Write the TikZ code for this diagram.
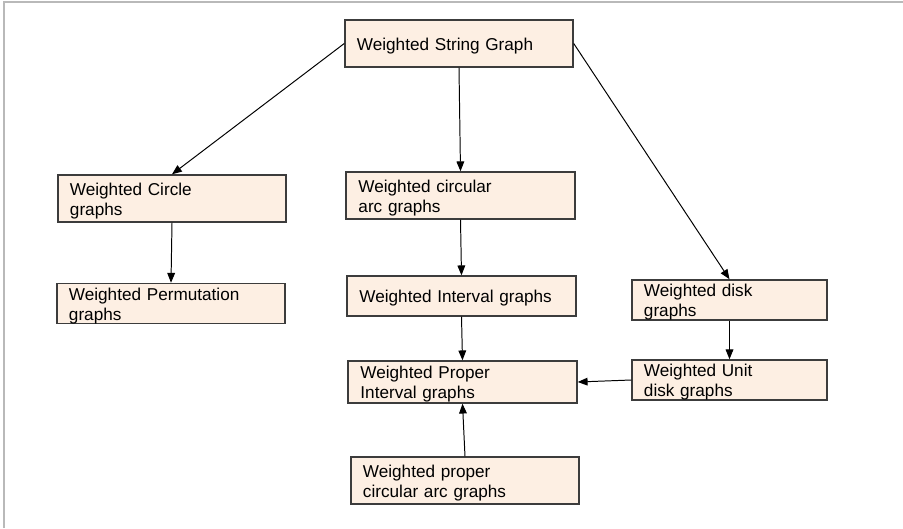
\documentclass[tikz,border=0pt]{standalone}
\usepackage{fontspec}
\setmainfont{Liberation Sans}
\usepackage{tikz}
\usetikzlibrary{arrows.meta}
\definecolor{boxfill}{RGB}{253,239,227}
\definecolor{boxline}{RGB}{60,60,60}

\begin{document}
\begin{tikzpicture}[x=0.025cm,y=-0.025cm,
	box/.style={draw=boxline,line width=1pt,fill=boxfill,inner xsep=0.3cm,inner ysep=0pt,
		align=left,text height=12pt,font=\fontsize{12.2}{14}\selectfont},
	wide/.style={box,minimum width=5.7cm,text width=5.1cm},
	narrow/.style={box,minimum width=4.875cm,text width=4.275cm},
	tall/.style={minimum height=1.175cm},
	short/.style={minimum height=1cm},
	link/.style={line width=0.7pt,-{Triangle[length=7pt,width=5.5pt]}}]

\useasboundingbox (0,0) rectangle (903,528);
\draw[gray!55,line width=1pt] (4,528) -- (4,2) -- (903,2);

\node[wide,tall] (string) at (459,43.5) {Weighted String Graph};
\node[wide,tall] (circle) at (172,198.5) {Weighted Circle\\graphs};
\node[wide,minimum height=0.975cm] (perm) at (171,303.5) {Weighted Permutation\\graphs};
\node[wide,tall,minimum width=5.725cm] (circarc) at (460.5,195.5) {Weighted circular\\arc graphs};
\node[wide,short,minimum width=5.725cm] (interval) at (461.5,296) {Weighted Interval graphs};
\node[narrow,short] (disk) at (729.5,300) {Weighted disk\\graphs};
\node[wide,minimum width=5.725cm,minimum height=1.05cm] (propint) at (462.5,382) {Weighted Proper\\Interval graphs};
\node[narrow,short] (unitdisk) at (729.5,380) {Weighted Unit\\disk graphs};
\node[wide,tall] (properarc) at (465,480.5) {Weighted proper\\circular arc graphs};

\draw[link] (string.west) -- (circle.north);
\draw[link] (string.south) -- (circarc.north);
\draw[link] (string.east) -- (disk.north);
\draw[link] (circle.south) -- (perm.north);
\draw[link] (circarc.south) -- (interval.north);
\draw[link] (interval.south) -- (propint.north);
\draw[link] (disk.south) -- (unitdisk.north);
\draw[link] (unitdisk.west) -- (propint.east);
\draw[link] (properarc.north) -- (propint.south);

\end{tikzpicture}
\end{document}
